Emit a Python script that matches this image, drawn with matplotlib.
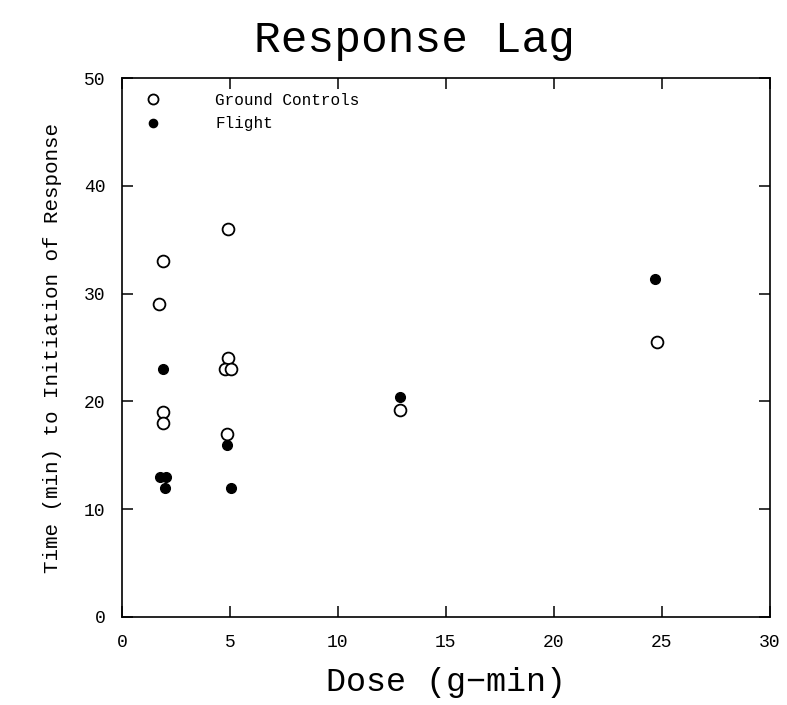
import matplotlib
matplotlib.use("Agg")
import matplotlib.pyplot as plt

# values
ground_dose = [1.9, 1.7, 1.9, 1.9, 4.9, 4.9, 4.75, 5.05, 4.85, 12.9, 24.8]
ground_time = [33, 29, 19, 18, 36, 24, 23, 23, 17, 19.2, 25.5]
flight_dose = [1.9, 1.75, 2.05, 2.0, 4.85, 5.05, 12.9, 24.7]
flight_time = [23, 13, 13, 12, 16, 12, 20.4, 31.4]

xticks = [0, 5, 10, 15, 20, 25, 30]
yticks = [0, 10, 20, 30, 40, 50]

plt.rcParams['font.family'] = ['Liberation Mono', 'DejaVu Sans Mono']

fig = plt.figure(figsize=(7.87, 7.05), dpi=100)
ax = fig.add_axes([0.155, 0.125, 0.823, 0.764])

ax.plot(ground_dose, ground_time, 'o', mfc='white', mec='black', mew=1.3,
        ms=8.5, ls='none', label='Ground Controls')
ax.plot(flight_dose, flight_time, 'o', mfc='black', mec='black',
        ms=7, ls='none', label='Flight')

ax.set_xlim(0, 30)
ax.set_ylim(0, 50)
ax.set_xticks(xticks)
ax.set_yticks(yticks)
ax.tick_params(direction='in', length=8, width=1.1, top=True, right=True,
               labelsize=13, pad=12)
for s in ax.spines.values():
    s.set_linewidth(1.2)

ax.set_xlabel('Dose (g\u2212min)', fontsize=24, labelpad=12)
ax.set_ylabel('Time (min) to Initiation of Response', fontsize=15, labelpad=16)
fig.text(0.527, 0.943, 'Response Lag', ha='center', va='center', fontsize=32)

leg = ax.legend(loc='upper left', bbox_to_anchor=(0.001, 1.0), frameon=False,
                fontsize=11.5, handletextpad=2.9, labelspacing=0.55,
                markerscale=0.85)

fig.savefig('out.png', dpi=100)
